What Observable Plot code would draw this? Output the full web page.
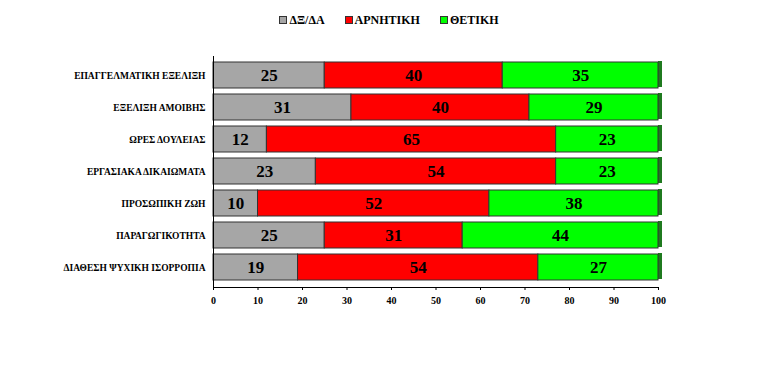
<!DOCTYPE html>
<html><head><meta charset="utf-8">
<script src="https://cdn.jsdelivr.net/npm/d3@7"></script>
<script src="https://cdn.jsdelivr.net/npm/@observablehq/plot@0.6"></script>
<style>
body{margin:0;background:#fff;width:762px;height:377px;overflow:hidden;font-family:"Liberation Serif","DejaVu Serif",serif;}
#legend{height:40px;display:flex;justify-content:center;align-items:center;gap:20px;font-weight:bold;font-size:12px;padding-left:16px;box-sizing:border-box;font-family:"Liberation Serif","DejaVu Serif",serif;}
#legend span.sw{display:inline-block;width:6px;height:6px;border:1px solid #333;margin-right:2px;vertical-align:0px;}
</style></head><body>
<div id="legend"></div>
<div id="chart"></div>
<script>
const categories = ["ΕΠΑΓΓΕΛΜΑΤΙΚΗ ΕΞΕΛΙΞΗ","ΕΞΕΛΙΞΗ ΑΜΟΙΒΗΣ","ΩΡΕΣ ΔΟΥΛΕΙΑΣ","ΕΡΓΑΣΙΑΚΑ ΔΙΚΑΙΩΜΑΤΑ","ΠΡΟΣΩΠΙΚΗ ΖΩΗ","ΠΑΡΑΓΩΓΙΚΟΤΗΤΑ","ΔΙΑΘΕΣΗ ΨΥΧΙΚΗ ΙΣΟΡΡΟΠΙΑ"];
const seriesNames = ["ΔΞ/ΔΑ","ΑΡΝΗΤΙΚΗ","ΘΕΤΙΚΗ"];
const dkda = [25,31,12,23,10,25,19];
const arnitiki = [40,40,65,54,52,31,54];
const thetiki = [35,29,23,23,38,44,27];
const xTicks = [0,10,20,30,40,50,60,70,80,90,100];
const colors = ["#a6a6a6","#ff0000","#00ff00"];

const series = [dkda, arnitiki, thetiki];
const data = [];
categories.forEach((c,i)=>{
  let acc = 0;
  series.forEach((s,j)=>{
    data.push({cat:c, series:seriesNames[j], value:s[i], x1:acc, x2:acc+s[i]});
    acc += s[i];
  });
});

const leg = document.getElementById("legend");
seriesNames.forEach((n,j)=>{
  const d = document.createElement("div");
  d.innerHTML = `<span class="sw" style="background:${colors[j]}"></span>${n}`;
  leg.appendChild(d);
});

const FF = "'Liberation Serif', 'DejaVu Serif', serif";
const chart = Plot.plot({
  width: 762, height: 337,
  marginLeft: 213, marginRight: 104, marginTop: 16, marginBottom: 90,
  style: {fontFamily: FF, fontWeight: "bold", fontSize: "9.5px", color: "#000"},
  x: {domain: [0,100], label: null},
  y: {domain: categories, padding: 0.18, label: null, tickSize: 0, tickPadding: 8},
  color: {domain: seriesNames, range: colors},
  marks: [
    Plot.rect(categories, {x1: 100, x2: 100, y: d=>d, insetRight: -4, dy: -1, fill: "#1f7a1f"}),
    Plot.barX(data, {x1:"x1", x2:"x2", y:"cat", fill:"series", stroke:"#333", strokeWidth: 1}),
    Plot.text(data, {x: d=>(d.x1+d.x2)/2, y:"cat", text: d=>String(d.value), fontSize: 17, fontWeight: "bold", fill: "#000", fontFamily: FF}),
    Plot.ruleX([0], {stroke: "#000"}),
    Plot.frame({anchor: "bottom", stroke: "#000"}),
    Plot.axisX({anchor: "bottom", ticks: xTicks, tickSize: 3, tickPadding: 6, fontSize: 10, fontWeight: "bold", fontFamily: FF})
  ]
});
document.getElementById("chart").appendChild(chart);
</script>
</body></html>
